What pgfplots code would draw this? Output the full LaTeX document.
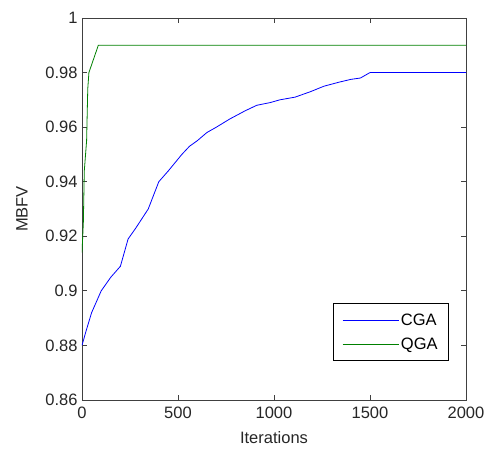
\documentclass[border=0pt]{standalone}
\usepackage{fontspec}
\setmainfont{Liberation Sans}
\usepackage{pgfplots}
\pgfplotsset{compat=1.18}
\usetikzlibrary{calc}

\definecolor{mblue}{rgb}{0,0,1}
\definecolor{mgreen}{rgb}{0,0.5,0}

\begin{document}
\begin{tikzpicture}
\begin{axis}[
    scale only axis,
    width=384pt,
    height=382pt,
    xmin=0, xmax=2000,
    ymin=0.86, ymax=1,
    xtick={0,500,1000,1500,2000},
    ytick={0.86,0.88,0.9,0.92,0.94,0.96,0.98,1},
    yticklabels={0.86,0.88,0.9,0.92,0.94,0.96,0.98,1},
    /pgf/number format/1000 sep={},
    /pgf/number format/assume math mode=true,
    tick align=inside,
    tick pos=both,
    major tick length=5pt,
    axis line style={black!75, line width=0.8pt},
    every tick/.style={black!75, line width=0.8pt},
    ticklabel style={font=\fontsize{16.5}{19}\selectfont, text=black!85},
    xticklabel style={yshift=-3pt},
    yticklabel style={xshift=-1pt},
    xlabel={Iterations},
    ylabel={MBFV},
    label style={font=\fontsize{16.5}{19}\selectfont, text=black!85},
    xlabel style={at={(axis description cs:0.5,0)}, anchor=center, yshift=-38pt},
    ylabel style={at={(axis description cs:0,0.5)}, anchor=center, yshift=60pt},
    legend style={at={(axis description cs:0.9557,0.1021)}, anchor=south east,
        draw=black, line width=0.8pt,
        font=\fontsize{16.5}{19}\selectfont, row sep=7pt,
        inner xsep=9pt, inner ysep=8pt},
    legend cell align=left,
    legend image code/.code={\draw[#1] (0pt,0pt) -- (56pt,0pt);},
]
\addplot[color=mblue, line width=0.8pt] coordinates {
(0,0.880) (20,0.885) (50,0.892) (100,0.900) (150,0.905) (200,0.909)
(240,0.919) (280,0.923) (345,0.930) (400,0.940) (450,0.944) (520,0.950)
(560,0.953) (600,0.955) (650,0.958) (700,0.960) (770,0.963) (850,0.966)
(910,0.968) (980,0.969) (1030,0.970) (1110,0.971) (1190,0.973) (1260,0.975)
(1340,0.9765) (1400,0.9775) (1450,0.978) (1500,0.980) (2000,0.980)
};
\addlegendentry{CGA}
\addplot[color=mgreen, line width=0.8pt] coordinates {
(0,0.914) (7,0.925) (12,0.944) (24,0.955) (30,0.974) (36,0.980)
(85,0.990) (2000,0.990)
};
\addlegendentry{QGA}
\end{axis}
\pgfresetboundingbox
\path ($(current axis.south west)+(-82pt,-52pt)$) rectangle +(485pt,452pt);
\end{tikzpicture}
\end{document}
